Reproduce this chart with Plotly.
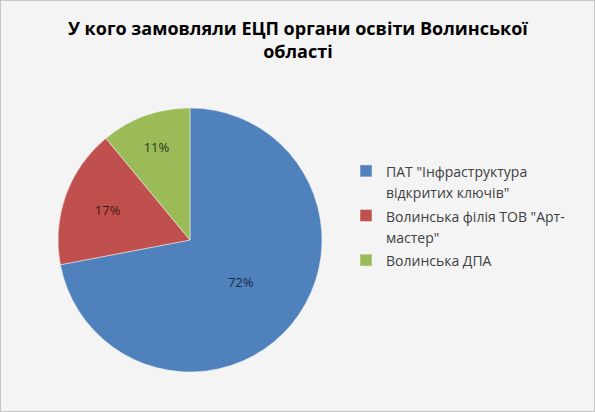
import plotly.graph_objects as go

labels = ['ПАТ "Інфраструктура<br>відкритих ключів"',
          'Волинська філія ТОВ "Арт-<br>мастер"',
          'Волинська ДПА']
values = [72, 17, 11]
colors = ['#4f81bd', '#c0504d', '#9bbb59']
text_colors = ['#1b2b45', '#3f1514', '#2a3a14']

# smaller glyphs inside a larger legend font -> looser line spacing, like the original
legend_labels = ['<span style="font-size:14px">' + s + '</span>' for s in labels]

fig = go.Figure(go.Pie(
    labels=legend_labels,
    values=values,
    sort=False,
    direction='clockwise',
    rotation=0,
    marker=dict(colors=colors, line=dict(color='#f4f4f4', width=0.5)),
    texttemplate='%{percent:.0%}',
    textposition='inside',
    insidetextorientation='horizontal',
    textfont=dict(family='Open Sans', size=13, color=text_colors),
    domain=dict(x=[58 / 595, 322 / 595], y=[40 / 412, 304 / 412]),
    hovertext=labels,
    hoverinfo='text+percent',
))

fig.add_annotation(
    text='<b>У кого замовляли ЕЦП органи освіти Волинської<br>області</b>',
    x=0.5, y=1 - 14 / 412, xref='paper', yref='paper',
    xanchor='center', yanchor='top', showarrow=False,
    font=dict(family='Open Sans', size=18, color='#000000'),
)

# thin grey frame like the exported chart
fig.add_shape(type='rect', xref='paper', yref='paper', x0=0, x1=1, y0=0, y1=1,
              line=dict(color='#b8b8b8', width=1.5))

fig.update_layout(
    width=595,
    height=412,
    margin=dict(l=0, r=0, t=0, b=0, pad=0),
    paper_bgcolor='#f4f4f4',
    plot_bgcolor='#f4f4f4',
    showlegend=True,
    legend=dict(
        x=346 / 595, y=1 - 154 / 412, xanchor='left', yanchor='top',
        font=dict(family='Open Sans', size=16, color='#404040'),
        bgcolor='rgba(0,0,0,0)',
        itemwidth=30,
        valign='top',
        tracegroupgap=0,
    ),
)

fig.write_html('out.html', config={'displayModeBar': False},
               post_script="document.body.style.margin='0';")
